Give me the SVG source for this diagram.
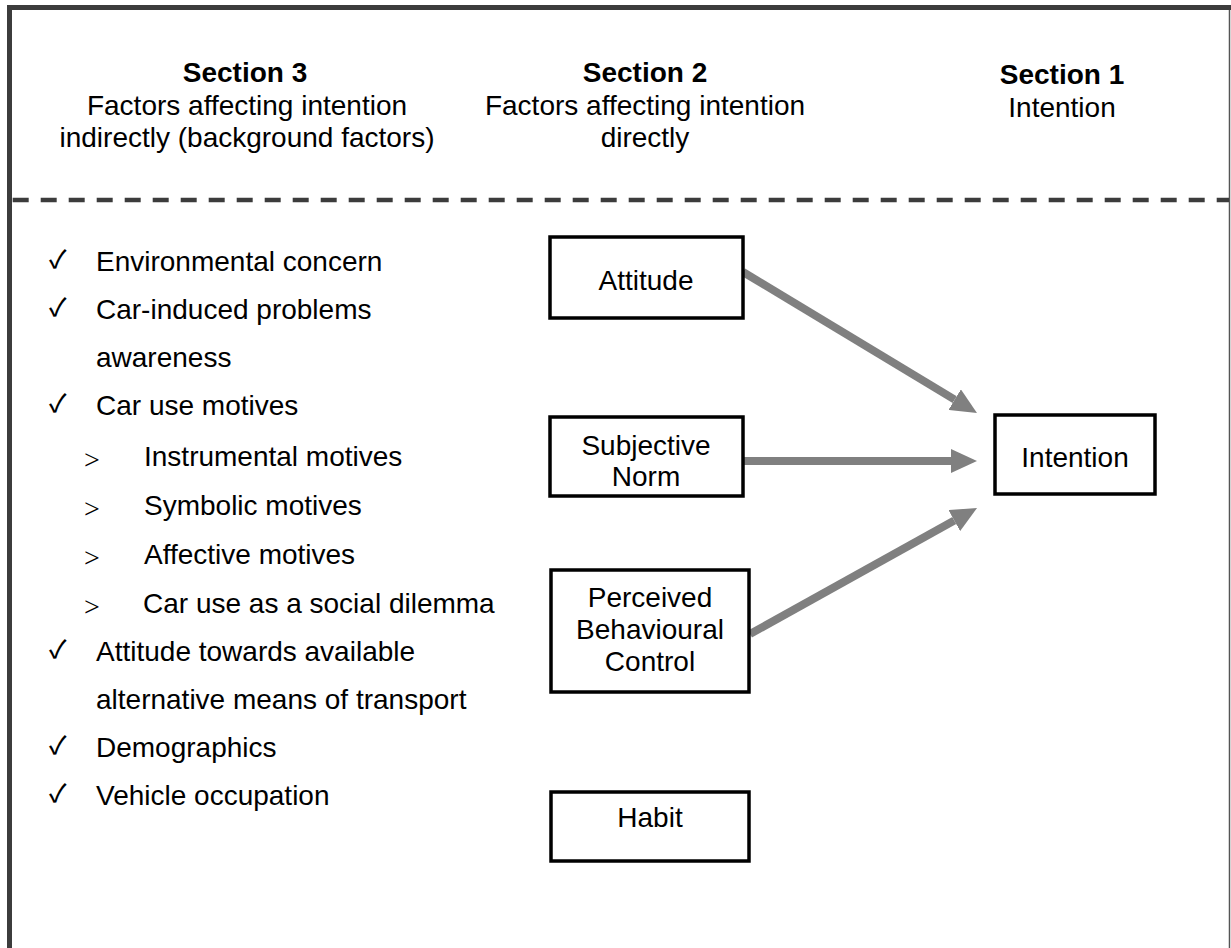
<svg xmlns="http://www.w3.org/2000/svg" width="1231" height="948" viewBox="0 0 1231 948">
  <style>
    text { font-family: "Liberation Sans", Arial, sans-serif; font-size: 28px; fill: #000; }
    .hd { text-anchor: middle; }
    .b { font-weight: bold; }
    .lbl { text-anchor: middle; }
    .box { fill: #fff; stroke: #000; stroke-width: 3.5; }
    .chk { font-family: "Noto Sans CJK JP", "DejaVu Sans", sans-serif; font-size: 25px; font-weight: 500; }
    .sub { font-family: "Liberation Serif", serif; font-size: 28px; }
    .edge { stroke: #808080; stroke-width: 8; fill: none; marker-end: url(#head); }
  </style>
  <defs>
    <marker id="head" viewBox="0 -12 26 24" refX="0" refY="0" markerWidth="26" markerHeight="24" markerUnits="userSpaceOnUse" orient="auto">
      <path d="M0,-12 L26,0 L0,12 z" fill="#808080"/>
    </marker>
  </defs>

  <rect width="1231" height="948" fill="#fff"/>

  <!-- outer frame and section divider -->
  <g id="frame">
    <line x1="7" y1="7.5" x2="1231" y2="7.5" stroke="#3c3c3c" stroke-width="5"/>
    <line x1="9.5" y1="5" x2="9.5" y2="948" stroke="#3c3c3c" stroke-width="5"/>
    <line x1="1229.5" y1="10" x2="1229.5" y2="948" stroke="#555" stroke-width="1.5"/>
    <line x1="12.7" y1="200" x2="1229" y2="200" stroke="#3c3c3c" stroke-width="4.5" stroke-dasharray="16 12"/>
  </g>

  <!-- column headings -->
  <g id="heading-section3">
    <text class="hd b" x="245" y="82">Section 3</text>
    <text class="hd" x="247" y="115">Factors affecting intention</text>
    <text class="hd" x="247" y="147">indirectly (background factors)</text>
  </g>
  <g id="heading-section2">
    <text class="hd b" x="645" y="82">Section 2</text>
    <text class="hd" x="645" y="115">Factors affecting intention</text>
    <text class="hd" x="645" y="147">directly</text>
  </g>
  <g id="heading-section1">
    <text class="hd b" x="1062" y="84">Section 1</text>
    <text class="hd" x="1062" y="117">Intention</text>
  </g>

  <!-- background factor list -->
  <g id="background-factors">
    <text class="chk" x="49" y="268">✓</text><text x="96" y="271">Environmental concern</text>
    <text class="chk" x="49" y="316">✓</text><text x="96" y="319">Car-induced problems</text>
    <text x="96" y="367">awareness</text>
    <text class="chk" x="49" y="412">✓</text><text x="96" y="415">Car use motives</text>
    <text class="sub" x="84" y="469">&gt;</text><text x="144" y="466">Instrumental motives</text>
    <text class="sub" x="84" y="518">&gt;</text><text x="144" y="515">Symbolic motives</text>
    <text class="sub" x="84" y="567">&gt;</text><text x="144" y="564">Affective motives</text>
    <text class="sub" x="84" y="616">&gt;</text><text x="143" y="613">Car use as a social dilemma</text>
    <text class="chk" x="49" y="658">✓</text><text x="96" y="661">Attitude towards available</text>
    <text x="96" y="709">alternative means of transport</text>
    <text class="chk" x="49" y="754">✓</text><text x="96" y="757">Demographics</text>
    <text class="chk" x="49" y="802">✓</text><text x="96" y="805">Vehicle occupation</text>
  </g>

  <!-- connectors -->
  <g id="connectors">
    <line class="edge" x1="743" y1="272" x2="954.7" y2="399.6"/>
    <line class="edge" x1="743" y1="461" x2="951" y2="461"/>
    <line class="edge" x1="750" y1="634" x2="954.3" y2="520.6"/>
  </g>

  <!-- nodes -->
  <g id="node-attitude">
    <rect class="box" x="550" y="237" width="193" height="81"/>
    <text class="lbl" x="646" y="290">Attitude</text>
  </g>
  <g id="node-subjective-norm">
    <rect class="box" x="550" y="417" width="193" height="79"/>
    <text class="lbl" x="646" y="455">Subjective</text>
    <text class="lbl" x="646" y="486">Norm</text>
  </g>
  <g id="node-intention">
    <rect class="box" x="995" y="415" width="160" height="79"/>
    <text class="lbl" x="1075" y="467">Intention</text>
  </g>
  <g id="node-pbc">
    <rect class="box" x="551" y="570" width="198" height="122"/>
    <text class="lbl" x="650" y="607">Perceived</text>
    <text class="lbl" x="650" y="639">Behavioural</text>
    <text class="lbl" x="650" y="671">Control</text>
  </g>
  <g id="node-habit">
    <rect class="box" x="551" y="792" width="198" height="69"/>
    <text class="lbl" x="650" y="827">Habit</text>
  </g>
</svg>
